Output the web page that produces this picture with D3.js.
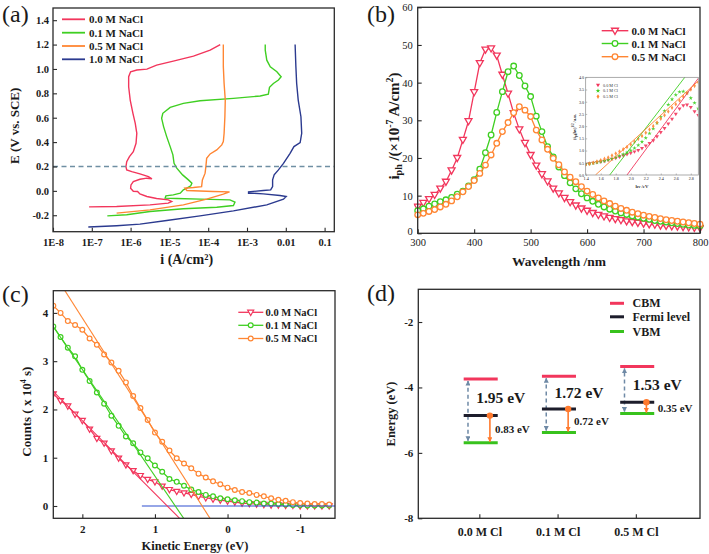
<!DOCTYPE html>
<html><head><meta charset="utf-8">
<script src="https://cdn.jsdelivr.net/npm/d3@7"></script>
<style>
body{margin:0;background:#fff;}
svg{display:block;font-family:"Liberation Serif","Times New Roman",serif;}
</style></head><body>
<svg id="chart" width="709" height="554"></svg>
<script>
// ---------------- DATA ----------------
// (a) polarization curves: log10(i / A cm^-2) and E (V vs SCE)
const aNames = ["0.0 M NaCl","0.1 M NaCl","0.5 M NaCl","1.0 M NaCl"];
const aLogI_00 = [-7.07,-6.36,-5.50,-5.03,-4.94,-5.03,-5.33,-5.58,-5.76,-5.82,-5.93,-6.00,-5.99,-5.93,-5.76,-5.58,-5.45,-5.54,-5.76,-5.97,-6.10,-6.12,-6.10,-6.03,-5.93,-5.86,-5.84,-5.88,-5.94,-6.01,-6.05,-6.05,-6.00,-5.84,-5.58,-5.33,-4.90,-4.38,-3.95,-3.69];
const aE_00    = [-0.131,-0.128,-0.115,-0.101,-0.087,-0.074,-0.063,-0.046,-0.025,-0.005,-0.003,0.022,0.049,0.076,0.095,0.104,0.098,0.117,0.139,0.158,0.172,0.199,0.240,0.281,0.322,0.390,0.472,0.554,0.636,0.745,0.854,0.936,0.977,0.991,0.999,1.031,1.064,1.105,1.154,1.200];
const aLogI_01 = [-6.60,-6.10,-5.50,-4.64,-3.78,-3.35,-3.31,-3.44,-4.21,-4.81,-5.11,-5.09,-4.90,-4.72,-4.64,-4.55,-4.45,-4.42,-4.51,-4.66,-4.81,-4.88,-4.91,-4.98,-5.07,-5.15,-5.20,-5.17,-4.98,-4.64,-4.21,-3.35,-2.66,-2.45,-2.42,-2.32,-2.19,-2.12,-2.23,-2.40,-2.49,-2.53,-2.53];
const aE_01    = [-0.205,-0.196,-0.169,-0.147,-0.134,-0.120,-0.093,-0.074,-0.068,-0.063,-0.060,-0.041,-0.033,-0.019,0.008,0.022,0.041,0.063,0.090,0.131,0.186,0.226,0.295,0.363,0.445,0.527,0.595,0.636,0.685,0.718,0.739,0.759,0.778,0.794,0.849,0.881,0.909,0.936,0.977,1.018,1.072,1.154,1.200];
const aLogI_05 = [-6.36,-5.50,-4.64,-4.04,-3.61,-3.45,-3.87,-4.55,-4.60,-4.38,-4.17,-4.15,-4.08,-4.06,-4.04,-3.95,-3.78,-3.65,-3.61,-3.59,-3.57,-3.56,-3.59,-3.61,-3.61];
const aE_05    = [-0.183,-0.156,-0.115,-0.068,-0.027,-0.008,-0.005,0.003,0.022,0.027,0.035,0.090,0.145,0.199,0.267,0.303,0.336,0.377,0.404,0.472,0.608,0.745,0.881,1.018,1.200];
const aLogI_10 = [-7.09,-6.36,-5.76,-5.07,-4.21,-3.35,-2.49,-2.06,-1.99,-2.15,-2.58,-2.83,-2.96,-2.96,-2.58,-2.39,-2.34,-2.34,-2.30,-2.19,-2.06,-1.89,-1.79,-1.63,-1.59,-1.61,-1.68,-1.72,-1.74,-1.76];
const aE_10    = [-0.297,-0.286,-0.273,-0.243,-0.205,-0.164,-0.115,-0.068,-0.046,-0.038,-0.025,-0.019,-0.019,-0.008,0.003,0.008,0.035,0.090,0.131,0.172,0.226,0.308,0.363,0.396,0.472,0.608,0.745,0.881,1.018,1.200];
const aRefE = 0.2;
const aXTickVals = [1e-8,1e-7,1e-6,1e-5,1e-4,1e-3,0.01,0.1];
const aXTickLabels = ["1E-8","1E-7","1E-6","1E-5","1E-4","1E-3","0.01","0.1"];
const aYTicks = [-0.2,0.0,0.2,0.4,0.6,0.8,1.0,1.2,1.4];

// (b) photocurrent spectra
const bNames = ["0.0 M NaCl","0.1 M NaCl","0.5 M NaCl"];
const bWave = [300,310,320,330,340,350,360,370,380,390,400,410,420,430,440,450,460,470,480,490,500,510,520,530,540,550,560,570,580,590,600,610,620,630,640,650,660,670,680,690,700,710,720,730,740,750,760,770,780,790,800];
const bI_00 = [7.1,8.1,9.1,10.2,11.9,13.7,16.7,20.0,24.8,29.8,37.5,45.2,48.8,49.1,47.2,42.1,37.1,31.9,27.6,24.0,20.8,18.0,15.7,13.8,11.9,10.6,9.4,8.3,7.4,6.6,6.0,5.4,4.9,4.5,4.1,3.8,3.5,3.2,3.0,2.8,2.6,2.4,2.3,2.1,2.0,1.9,1.8,1.7,1.6,1.5,1.4];
const bI_01 = [6.0,6.5,7.2,7.8,8.4,8.9,9.5,10.4,11.2,12.6,14.2,17.0,21.4,26.1,32.1,37.6,42.9,44.4,41.9,39.1,36.3,31.1,27.0,23.0,20.3,17.6,15.3,13.4,11.8,10.5,9.4,8.5,7.7,7.0,6.4,5.9,5.4,5.0,4.6,4.3,4.0,3.7,3.4,3.2,3.0,2.8,2.6,2.4,2.2,2.1,2.0];
const bI_05 = [4.9,5.3,5.8,6.3,7.0,7.7,8.6,9.7,11.0,12.4,14.0,15.9,18.1,20.8,23.9,27.0,29.4,32.0,33.6,32.7,31.0,27.4,24.8,22.3,19.9,18.2,16.3,14.9,13.7,12.4,11.2,10.3,9.4,8.6,7.9,7.2,6.6,6.1,5.6,5.2,4.8,4.5,4.2,3.9,3.6,3.4,3.2,3.0,2.8,2.6,2.4];
const bXTicks = [300,400,500,600,700,800];
const bYTicks = [0,10,20,30,40,50,60];

// (b) inset: (i_ph hv)^1/2 vs hv
const iNames = ["0.0 M Cl","0.1 M Cl","0.5 M Cl"];
const iHv = [1.40,1.45,1.50,1.55,1.60,1.65,1.70,1.75,1.80,1.85,1.90,1.95,2.00,2.05,2.10,2.15,2.20,2.25,2.30,2.35,2.40,2.45,2.50,2.55,2.60,2.65,2.70,2.75,2.80,2.85,2.90];
const iY_00 = [0.45,0.47,0.50,0.52,0.55,0.58,0.62,0.66,0.70,0.75,0.80,0.85,0.90,0.96,1.02,1.10,1.20,1.30,1.42,1.58,1.75,1.92,2.10,2.30,2.50,2.72,2.85,2.88,2.78,2.60,2.45];
const iY_01 = [0.45,0.47,0.49,0.52,0.55,0.58,0.62,0.66,0.72,0.78,0.85,0.92,1.00,1.10,1.22,1.36,1.52,1.70,1.90,2.12,2.38,2.62,2.88,3.10,3.28,3.40,3.42,3.35,3.15,2.95,2.72];
const iY_05 = [0.42,0.46,0.50,0.55,0.60,0.66,0.72,0.80,0.88,0.96,1.05,1.15,1.25,1.36,1.48,1.60,1.73,1.86,2.00,2.15,2.30,2.45,2.60,2.75,2.90,3.05,3.20,3.35,3.50,3.65,3.80];
const iFitEg = [1.95,1.72,1.53];
const iFitSlope = [4.17,4.0,2.81];
const iXTicks = [1.4,1.6,1.8,2.0,2.2,2.4,2.6,2.8];
const iYTicks = [0.0,0.5,1.0,1.5,2.0,2.5,3.0,3.5,4.0];

// (c) UPS secondary edge
const cNames = ["0.0 M NaCl","0.1 M NaCl","0.5 M NaCl"];
const cKE = [2.4,2.3,2.2,2.1,2.0,1.9,1.8,1.7,1.6,1.5,1.4,1.3,1.2,1.1,1.0,0.9,0.8,0.7,0.6,0.5,0.4,0.3,0.2,0.1,0.0,-0.1,-0.2,-0.3,-0.4,-0.5,-0.6,-0.7,-0.8,-0.9,-1.0,-1.1,-1.2,-1.3,-1.4];
const cC_00 = [2.32,2.18,2.07,1.90,1.77,1.59,1.40,1.30,1.14,0.99,0.85,0.73,0.63,0.55,0.50,0.41,0.34,0.30,0.27,0.24,0.20,0.17,0.14,0.12,0.10,0.08,0.06,0.05,0.04,0.03,0.02,0.02,0.01,0.01,0.00,0.00,0.00,0.00,0.00];
const cC_01 = [3.72,3.50,3.28,3.10,2.82,2.59,2.35,2.12,1.87,1.66,1.44,1.30,1.11,0.99,0.84,0.71,0.56,0.50,0.42,0.34,0.29,0.23,0.20,0.16,0.14,0.12,0.10,0.08,0.07,0.05,0.05,0.04,0.03,0.02,0.02,0.01,0.01,0.01,0.01];
const cC_05 = [4.15,4.00,3.83,3.75,3.65,3.47,3.34,3.14,2.97,2.80,2.56,2.28,2.03,1.78,1.52,1.33,1.15,0.99,0.88,0.78,0.67,0.59,0.51,0.45,0.38,0.33,0.29,0.27,0.23,0.20,0.16,0.13,0.11,0.08,0.06,0.05,0.04,0.04,0.03];
const cFitIntercept = [0.83,0.72,0.35];
const cFitSlope = [1.51,2.21,2.36];
const cBaseline = [1.18,-1.48];
const cXTicks = [2,1,0,-1];
const cYTicks = [0,1,2,3,4];

// (d) band diagram
const dCats = ["0.0 M Cl","0.1 M Cl","0.5 M Cl"];
const dCBM = [-3.74,-3.66,-3.36];
const dFermi = [-4.86,-4.66,-4.45];
const dVBM = [-5.69,-5.38,-4.80];
const dGapLabels = ["1.95 eV","1.72 eV","1.53 eV"];
const dOffLabels = ["0.83 eV","0.72 eV","0.35 eV"];
const dLegend = ["CBM","Fermi level","VBM"];
const dYTicks = [-8,-6,-4,-2];

// ---------------- HELPERS ----------------
const svg = d3.select('#chart');
const FONT = '"Liberation Serif","Times New Roman",serif';
const INK = '#2a2a2a';
const RED = '#f2365c', GREEN = '#3fcf22', ORANGE = '#ff8633', NAVY = '#2b3a8f';

function frame(x0,y0,x1,y1,sw){
  svg.append('rect').attr('x',x0).attr('y',y0).attr('width',x1-x0).attr('height',y1-y0)
    .attr('fill','none').attr('stroke',INK).attr('stroke-width',sw||1.3);
}
function styleAxis(g, fs, weight){
  g.attr('font-family',null).attr('font-size',null);
  g.select('.domain').remove();
  g.selectAll('.tick line').attr('stroke',INK).attr('stroke-width',1.1);
  g.selectAll('.tick text').attr('font-size',fs).attr('font-weight',weight).attr('fill','#1a1a1a').style('font-family',FONT);
}
let clipN = 0;
function clip(x0,y0,x1,y1){
  const id = 'clp'+(clipN++);
  svg.append('clipPath').attr('id',id).append('rect').attr('x',x0).attr('y',y0).attr('width',x1-x0).attr('height',y1-y0);
  return 'url(#'+id+')';
}
const triDown = s => `M${-s},${-s*0.7}L${s},${-s*0.7}L0,${s*1.05}Z`;
function marker(g, type, x, y, color, s, sw){
  if(type==='tri') g.append('path').attr('d',triDown(s)).attr('transform',`translate(${x},${y})`).attr('fill','#fff').attr('stroke',color).attr('stroke-width',sw);
  else g.append('circle').attr('cx',x).attr('cy',y).attr('r',s*0.8).attr('fill','#fff').attr('stroke',color).attr('stroke-width',sw);
}
function label(x,y,txt,fs,opts){
  opts = opts||{};
  return svg.append('text').attr('x',x).attr('y',y).attr('font-size',fs)
    .attr('font-weight',opts.weight||'bold').attr('text-anchor',opts.anchor||'start').attr('fill','#1a1a1a').text(txt);
}
function vlabel(x,y,fs,parts){
  const t = svg.append('text').attr('transform',`translate(${x},${y}) rotate(-90)`).attr('text-anchor','middle')
    .attr('font-size',fs).attr('font-weight','bold').attr('fill','#1a1a1a');
  parts.forEach(p=>{
    const ts = t.append('tspan').text(p.t);
    if(p.fs) ts.attr('font-size',p.fs);
    if(p.dy) ts.attr('dy',p.dy);
  });
  return t;
}

// panel letters
label(2,22,'(a)',24,{weight:'normal'});
label(367,22,'(b)',24,{weight:'normal'});
label(2,302,'(c)',24,{weight:'normal'});
label(367,301,'(d)',24,{weight:'normal'});

// ---------------- PANEL A ----------------
{
  const L=53, R=334.3, T=8, B=231.7;
  const x = d3.scaleLog().domain([1e-8, Math.pow(10,-0.75)]).range([L,R]);
  const y = d3.scaleLinear().domain([-0.335,1.5]).range([B,T]);
  const cp = clip(L,T,R,B);
  const series = [[aLogI_00,aE_00,RED],[aLogI_01,aE_01,GREEN],[aLogI_05,aE_05,ORANGE],[aLogI_10,aE_10,NAVY]];
  const line = d3.line().x(d=>x(d[0])).y(d=>y(d[1]));
  series.forEach(s=>{
    const pts = s[0].map((v,i)=>[Math.pow(10,v), s[1][i]]);
    svg.append('path').attr('d',line(pts)).attr('fill','none').attr('stroke',s[2]).attr('stroke-width',1.4).attr('clip-path',cp);
  });
  svg.append('line').attr('x1',L).attr('x2',R).attr('y1',y(aRefE)).attr('y2',y(aRefE))
    .attr('stroke','#6f8fa3').attr('stroke-width',1.5).attr('stroke-dasharray','5,3.5');
  const gx = svg.append('g').attr('transform',`translate(0,${B})`)
    .call(d3.axisBottom(x).tickValues(aXTickVals).tickFormat((d,i)=>aXTickLabels[i]).tickSize(-4).tickPadding(7));
  styleAxis(gx,10.5,'bold');
  const gy = svg.append('g').attr('transform',`translate(${L},0)`)
    .call(d3.axisLeft(y).tickValues(aYTicks).tickFormat(d=>d.toFixed(1)).tickSize(-4).tickPadding(4));
  styleAxis(gy,10.5,'bold');
  frame(L,T,R,B);
  const ly = [19.3,32.7,46,59.3];
  series.forEach((s,i)=>{
    svg.append('line').attr('x1',62).attr('x2',85).attr('y1',ly[i]).attr('y2',ly[i]).attr('stroke',s[2]).attr('stroke-width',1.8);
    label(89,ly[i]+3.8,aNames[i],11);
  });
  vlabel(18.5,125.8,13,[{t:'E (V vs. SCE)'}]);
  label(186.7,264,'i (A/cm²)',14,{anchor:'middle'});
}

// ---------------- PANEL B ----------------
{
  const L=417.7, R=700, T=7.3, B=233.3;
  const x = d3.scaleLinear().domain([300,800]).range([L,R]);
  const y = d3.scaleLinear().domain([0,60]).range([B,T]);
  const cp = clip(L-4,T,R+4,B+4);
  const series = [[bI_00,RED,'tri'],[bI_01,GREEN,'circ'],[bI_05,ORANGE,'circ']];
  const line = d3.line().x(d=>x(d[0])).y(d=>y(d[1]));
  series.forEach(s=>{
    const g = svg.append('g').attr('clip-path',cp);
    const pts = bWave.map((w,i)=>[w,s[0][i]]);
    g.append('path').attr('d',line(pts)).attr('fill','none').attr('stroke',s[1]).attr('stroke-width',1.3);
    pts.forEach(p=>marker(g,s[2],x(p[0]),y(p[1]),s[1],3.5,1.3));
  });
  const gx = svg.append('g').attr('transform',`translate(0,${B})`)
    .call(d3.axisBottom(x).tickValues(bXTicks).tickFormat(d=>String(d)).tickSize(-4).tickPadding(5));
  styleAxis(gx,10.5,'normal');
  const gy = svg.append('g').attr('transform',`translate(${L},0)`)
    .call(d3.axisLeft(y).tickValues(bYTicks).tickFormat(d=>String(d)).tickSize(-4).tickPadding(5));
  styleAxis(gy,10.5,'normal');
  gy.selectAll('.tick text').filter(d=>d===0).attr('dy','0.1em');
  frame(L,T,R,B);
  const ly = [30.7,43.5,56.7];
  series.forEach((s,i)=>{
    svg.append('line').attr('x1',601.7).attr('x2',628.3).attr('y1',ly[i]).attr('y2',ly[i]).attr('stroke',s[1]).attr('stroke-width',1.4);
    marker(svg,s[2],615,ly[i],s[1],3.5,1.3);
    label(631.5,ly[i]+4,bNames[i],11);
  });
  vlabel(399,126,15,[{t:'i'},{t:'ph',fs:10,dy:3},{t:' /(×10',dy:-3},{t:'-7',fs:10,dy:-6},{t:' A/cm',dy:6},{t:'2',fs:10,dy:-6},{t:')',dy:6}]);
  label(559,266,'Wavelength /nm',13.5,{anchor:'middle'});

  // inset
  const iL=585.7, iR=698.3, iT=77.3, iB=175;
  svg.append('rect').attr('x',iL).attr('y',iT).attr('width',iR-iL).attr('height',iB-iT).attr('fill','#fff');
  const ix = d3.scaleLinear().domain([1.4,2.9]).range([iL,iR]);
  const iy = d3.scaleLinear().domain([0,4]).range([iB,iT]);
  const icp = clip(iL,iT,iR,iB);
  const icol = [RED,GREEN,ORANGE];
  const idata = [iY_00,iY_01,iY_05];
  const isym = [d3.symbolTriangle,d3.symbolStar,d3.symbolDiamond];
  idata.forEach((arr,k)=>{
    const g = svg.append('g').attr('clip-path',icp);
    const sym = d3.symbol().type(isym[k]).size(k===0?7:6);
    arr.forEach((v,i)=>{
      g.append('path').attr('d',sym()).attr('transform',`translate(${ix(iHv[i])},${iy(v)})${k===0?' rotate(180)':''}`)
        .attr('fill',icol[k]).attr('opacity',0.9);
    });
  });
  iFitEg.forEach((eg,k)=>{
    const xe = 2.9;
    svg.append('line').attr('x1',ix(eg)).attr('y1',iy(0)).attr('x2',ix(xe)).attr('y2',iy(iFitSlope[k]*(xe-eg)))
      .attr('stroke',icol[k]).attr('stroke-width',0.9).attr('clip-path',icp);
  });
  const igx = svg.append('g').attr('transform',`translate(0,${iB})`)
    .call(d3.axisBottom(ix).tickValues(iXTicks).tickFormat(d=>d.toFixed(1)).tickSize(-1.5).tickPadding(2));
  styleAxis(igx,4.2,'normal');
  igx.selectAll('.tick line').attr('stroke-width',0.5).attr('stroke','#777');
  const igy = svg.append('g').attr('transform',`translate(${iL},0)`)
    .call(d3.axisLeft(iy).tickValues(iYTicks).tickFormat(d=>d.toFixed(1)).tickSize(-1.5).tickPadding(1.5));
  styleAxis(igy,4.2,'normal');
  igy.selectAll('.tick line').attr('stroke-width',0.5).attr('stroke','#777');
  svg.append('rect').attr('x',iL).attr('y',iT).attr('width',iR-iL).attr('height',iB-iT).attr('fill','none').attr('stroke','#888').attr('stroke-width',0.7);
  const ily = [85,90.8,96.6];
  iNames.forEach((n,k)=>{
    const sym = d3.symbol().type(isym[k]).size(7);
    svg.append('path').attr('d',sym()).attr('transform',`translate(598,${ily[k]})${k===0?' rotate(180)':''}`).attr('fill',icol[k]);
    svg.append('text').attr('x',603).attr('y',ily[k]+1.5).attr('font-size',4.2).attr('fill','#333').text(n);
  });
  const ilab = svg.append('text').attr('transform',`translate(576,127) rotate(-90)`).attr('text-anchor','middle').attr('font-size',4.5).attr('font-weight','bold').attr('fill','#333');
  ilab.append('tspan').text('(i');
  ilab.append('tspan').attr('font-size',3.2).attr('dy',1).text('ph');
  ilab.append('tspan').attr('dy',-1).text('hν)');
  ilab.append('tspan').attr('font-size',3.2).attr('dy',-2).text('1/2');
  ilab.append('tspan').attr('dy',2).text(' /a.u.');
  svg.append('text').attr('x',642).attr('y',188).attr('text-anchor','middle').attr('font-size',4.8).attr('font-weight','bold').attr('fill','#333').text('hν /eV');
}

// ---------------- PANEL C ----------------
{
  const L=53.3, R=335, T=290.7, B=518.3;
  const x = d3.scaleLinear().domain([2.4,-1.48]).range([L,R]);
  const y = d3.scaleLinear().domain([-0.255,4.46]).range([B,T]);
  const cp = clip(L,T,R,B);
  const series = [[cC_00,RED,'tri'],[cC_01,GREEN,'circ'],[cC_05,ORANGE,'circ']];
  const line = d3.line().x(d=>x(d[0])).y(d=>y(d[1]));
  series.forEach(s=>{
    const g = svg.append('g').attr('clip-path',cp);
    const pts = cKE.map((e,i)=>[e,s[0][i]]);
    g.append('path').attr('d',line(pts)).attr('fill','none').attr('stroke',s[1]).attr('stroke-width',1.2);
    pts.forEach(p=>marker(g,s[2],x(p[0]),y(p[1]),s[1],3.0,1.2));
  });
  svg.append('line').attr('x1',x(cBaseline[0])).attr('x2',x(cBaseline[1])).attr('y1',y(0)).attr('y2',y(0))
    .attr('stroke','#2f4fd0').attr('stroke-width',1.2).attr('clip-path',cp);
  cFitIntercept.forEach((x0,k)=>{
    const xa = 2.6, xb = x0 - 0.4;
    svg.append('line').attr('x1',x(xa)).attr('y1',y(cFitSlope[k]*(xa-x0))).attr('x2',x(xb)).attr('y2',y(cFitSlope[k]*(xb-x0)))
      .attr('stroke',series[k][1]).attr('stroke-width',1.1).attr('clip-path',cp);
  });
  const gx = svg.append('g').attr('transform',`translate(0,${B})`)
    .call(d3.axisBottom(x).tickValues(cXTicks).tickFormat(d=>String(d)).tickSize(-4).tickPadding(7));
  styleAxis(gx,11,'bold');
  const gy = svg.append('g').attr('transform',`translate(${L},0)`)
    .call(d3.axisLeft(y).tickValues(cYTicks).tickFormat(d=>String(d)).tickSize(-4).tickPadding(5));
  styleAxis(gy,11,'bold');
  frame(L,T,R,B);
  const ly = [312.3,325.3,338.5];
  series.forEach((s,i)=>{
    svg.append('line').attr('x1',238.3).attr('x2',263.3).attr('y1',ly[i]).attr('y2',ly[i]).attr('stroke',s[1]).attr('stroke-width',1.3);
    marker(svg,s[2],250.7,ly[i],s[1],3.0,1.2);
    label(265.5,ly[i]+3.6,cNames[i],10.5);
  });
  vlabel(31,411.7,13,[{t:'Counts ( x 10'},{t:'4',fs:8,dy:-5},{t:' s)',dy:5}]);
  label(195,550,'Kinetic Energy (eV)',12.5,{anchor:'middle'});
}

// ---------------- PANEL D ----------------
{
  const L=418.3, R=700, T=289.3, B=518.3;
  const x = d3.scaleLinear().domain([0.22,3.82]).range([L,R]);
  const y = d3.scaleLinear().domain([-8,-1]).range([B,T]);
  const CB='#f2365c', FE='#1d1d2b', VB='#38c21d', DASH='#6f8aa6', ARR='#ff7a2e';
  const defs = svg.append('defs');
  const mk = (id,col,w,h)=>defs.append('marker').attr('id',id).attr('viewBox','0 0 10 10').attr('refX',9).attr('refY',5)
    .attr('markerWidth',w).attr('markerHeight',h).attr('orient','auto-start-reverse').attr('markerUnits','userSpaceOnUse')
    .append('path').attr('d','M0,0L10,5L0,10Z').attr('fill',col);
  mk('arrDash',DASH,6,5); mk('arrOr',ARR,6,5);
  const gx = svg.append('g').attr('transform',`translate(0,${B})`)
    .call(d3.axisBottom(x).tickValues([1,2,3]).tickFormat((d,i)=>dCats[i]).tickSize(-4).tickPadding(9));
  styleAxis(gx,12,'bold');
  const gy = svg.append('g').attr('transform',`translate(${L},0)`)
    .call(d3.axisLeft(y).tickValues(dYTicks).tickFormat(d=>String(d)).tickSize(-4).tickPadding(5));
  styleAxis(gy,11,'bold');
  frame(L,T,R,B);
  const offDx = [0.2,0.21,0.28];
  dCats.forEach((c,i)=>{
    const cx = i+1;
    svg.append('line').attr('x1',x(cx-0.145)).attr('x2',x(cx-0.145)).attr('y1',y(dVBM[i])-2).attr('y2',y(dCBM[i])+2)
      .attr('stroke',DASH).attr('stroke-width',1.5).attr('stroke-dasharray','4,3')
      .attr('marker-start','url(#arrDash)').attr('marker-end','url(#arrDash)');
    [[dCBM[i],CB],[dFermi[i],FE],[dVBM[i],VB]].forEach(l=>{
      svg.append('line').attr('x1',x(cx-0.2)).attr('x2',x(cx+0.235)).attr('y1',y(l[0])).attr('y2',y(l[0]))
        .attr('stroke',l[1]).attr('stroke-width',3);
    });
    svg.append('line').attr('x1',x(cx+0.135)).attr('x2',x(cx+0.135)).attr('y1',y(dFermi[i])).attr('y2',y(dVBM[i])-1)
      .attr('stroke',ARR).attr('stroke-width',1.6).attr('marker-end','url(#arrOr)');
    svg.append('circle').attr('cx',x(cx+0.135)).attr('cy',y(dFermi[i])).attr('r',3.2).attr('fill',ARR);
    svg.append('text').attr('x',x(cx-0.04)).attr('y',y((dCBM[i]+dFermi[i])/2)).attr('dy','0.35em')
      .attr('font-size',15.5).attr('font-weight','bold').attr('fill','#1a1a1a').text(dGapLabels[i]);
    svg.append('text').attr('x',x(cx+offDx[i])).attr('y',y((dFermi[i]+dVBM[i])/2)).attr('dy','0.35em')
      .attr('font-size',11).attr('font-weight','bold').attr('fill','#1a1a1a').text(dOffLabels[i]);
  });
  const lc = [CB,FE,VB], ly = [303.3,316.8,331.5];
  dLegend.forEach((n,i)=>{
    svg.append('line').attr('x1',610).attr('x2',624).attr('y1',ly[i]).attr('y2',ly[i]).attr('stroke',lc[i]).attr('stroke-width',3);
    label(632.5,ly[i]+4,n,12);
  });
  vlabel(395,414,12.5,[{t:'Energy (eV)'}]);
}
</script>
</body></html>
